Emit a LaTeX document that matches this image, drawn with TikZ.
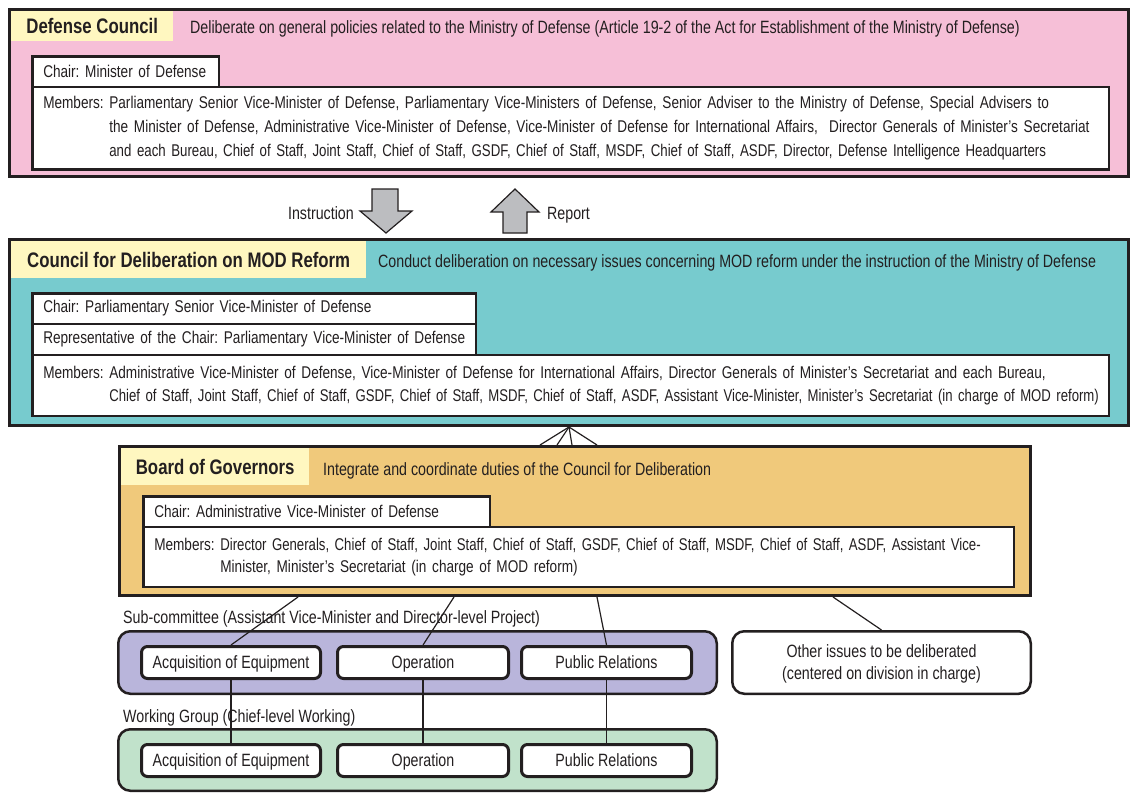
\documentclass[tikz,border=0pt]{standalone}
\usepackage{graphicx}
\usepackage{fontspec}
\setmainfont{Liberation Sans}[FakeStretch=0.8]
\frenchspacing

\definecolor{dcpink}{HTML}{F6BFD7}
\definecolor{cdrteal}{HTML}{77CBCE}
\definecolor{bogorange}{HTML}{F0C97B}
\definecolor{titleyellow}{HTML}{FFF7C0}
\definecolor{subpurple}{HTML}{B9B5DB}
\definecolor{wggreen}{HTML}{C1E2CB}
\definecolor{arrowgray}{HTML}{BCBDC0}
\definecolor{inkblack}{HTML}{231F20}

\newcommand{\bodyfont}{\fontsize{17}{24}\selectfont}
\newcommand{\descfont}{\fontsize{17.8}{22}\selectfont}
\newcommand{\headfont}{\fontsize{21}{24}\selectfont\bfseries}
\newcommand{\mindent}{\hphantom{Members: }}
\newcommand{\squeeze}[2]{\scalebox{#1}[1]{#2}}

\begin{document}
\begin{tikzpicture}[
    x=1pt, y=-1pt,
    panel/.style={draw=inkblack, line width=3pt, anchor=north west, inner sep=0pt},
    headbox/.style={fill=titleyellow, anchor=north west, inner sep=0pt,
                    font=\headfont, text=inkblack},
    desc/.style={anchor=base west, inner sep=0pt, font=\descfont, text=inkblack},
    infobox/.style={draw=inkblack, line width=2.5pt, fill=white, anchor=north west,
                    inner xsep=11pt, inner ysep=0pt, align=left,
                    font=\bodyfont, text=inkblack},
    group/.style={draw=inkblack, line width=2.5pt, rounded corners=12pt,
                  anchor=north west, inner sep=0pt},
    unit/.style={draw=inkblack, line width=3pt, fill=white, rounded corners=6pt,
                 anchor=north west, inner sep=0pt, minimum height=32pt,
                 text height=12pt, text depth=0pt, font=\descfont, text=inkblack},
    link/.style={draw=inkblack, line width=1.2pt},
    blockarrow/.style={draw=inkblack, line width=1.2pt, fill=arrowgray, line join=miter}
  ]
  \useasboundingbox (0,0) rectangle (1132,793);

  % Defense Council
  \node[panel, fill=dcpink, minimum width=1119, minimum height=167] (dc) at (8,8) {};
  \node[headbox, minimum width=162, minimum height=30] (dctitle) at (11,11) {Defense Council};
  \node[desc] (dcdesc) at (190,33) {Deliberate on general policies related to the Ministry of Defense (Article 19-2 of the Act for Establishment of the Ministry of Defense)};
  \node[infobox, text width=164.5, minimum height=30.5] (dcchair) at (31,55) {\mbox{Chair: Minister of Defense}};
  \node[infobox, text width=1054.5, minimum height=82.5] (dcmembers) at (31,85.5) {\mbox{Members: Parliamentary Senior Vice-Minister of Defense, Parliamentary Vice-Ministers of Defense, Senior Adviser to the Ministry of Defense, Special Advisers to}\\
    \mbox{\mindent the Minister of Defense, Administrative Vice-Minister of Defense, Vice-Minister of Defense for International Affairs,\ \ Director Generals of Minister’s Secretariat}\\
    \mbox{\mindent\squeeze{0.975}{and each Bureau, Chief of Staff, Joint Staff, Chief of Staff, GSDF, Chief of Staff, MSDF, Chief of Staff, ASDF, Director, Defense Intelligence Headquarters}}};

  % Instruction / Report
  \draw[blockarrow] (372,189) -- (398,189) -- (398,211) -- (412,211) -- (386,233)
    -- (360,211) -- (372,211) -- cycle;
  \draw[blockarrow] (515,189) -- (539,212) -- (527,212) -- (527,233) -- (503,233)
    -- (503,212) -- (491,212) -- cycle;
  \node[desc, anchor=base east] (instrlab) at (354,219) {Instruction};
  \node[desc] (reportlab) at (547,219) {Report};

  % Council for Deliberation on MOD Reform
  \node[panel, fill=cdrteal, minimum width=1119, minimum height=186] (cdr) at (8,238) {};
  \node[headbox, minimum width=355, minimum height=37] (cdrtitle) at (11,241) {Council for Deliberation on MOD Reform};
  \node[desc] (cdrdesc) at (378,267) {Conduct deliberation on necessary issues concerning MOD reform under the instruction of the Ministry of Defense};
  \node[infobox, text width=421.5, minimum height=30.5] (cdrchair) at (31,292) {\mbox{Chair: Parliamentary Senior Vice-Minister of Defense}};
  \node[infobox, text width=421.5, minimum height=31] (cdrrep) at (31,322.5) {\mbox{Representative of the Chair: Parliamentary Vice-Minister of Defense}};
  \node[infobox, text width=1054.5, minimum height=61, font=\fontsize{17}{23}\selectfont] (cdrmembers) at (31,353.5) {\mbox{Members: Administrative Vice-Minister of Defense, Vice-Minister of Defense for International Affairs, Director Generals of Minister’s Secretariat and each Bureau,}\\
    \mbox{\mindent\squeeze{0.967}{Chief of Staff, Joint Staff, Chief of Staff, GSDF, Chief of Staff, MSDF, Chief of Staff, ASDF, Assistant Vice-Minister, Minister’s Secretariat (in charge of MOD reform)}}};

  % Board of Governors
  \node[panel, fill=bogorange, minimum width=911, minimum height=149] (bog) at (118,445) {};
  \node[headbox, minimum width=188, minimum height=37] (bogtitle) at (121,448) {Board of Governors};
  \node[desc] (bogdesc) at (323,475) {Integrate and coordinate duties of the Council for Deliberation};
  \node[infobox, text width=324.5, minimum height=30.5] (bogchair) at (142,495) {\mbox{Chair: Administrative Vice-Minister of Defense}};
  \node[infobox, text width=848.5, minimum height=60, font=\fontsize{17}{22}\selectfont] (bogmembers) at (142,525.5) {\mbox{Members: \squeeze{0.97}{Director Generals, Chief of Staff, Joint Staff, Chief of Staff, GSDF, Chief of Staff, MSDF, Chief of Staff, ASDF, Assistant Vice-}}\\
    \mbox{\mindent Minister, Minister's Secretariat (in charge of MOD reform)}};

  % fan between council and board
  \coordinate (apex) at (569,427);
  \foreach \x [count=\i] in {540,557,572,597} {
    \coordinate (fan\i) at (\x,445);
    \draw[link] (apex) -- (fan\i);
  }

  % Sub-committee and working group
  \node[desc] (sclab) at (123,623) {Sub-committee (Assistant Vice-Minister and Director-level Project)};
  \node[group, fill=subpurple, minimum width=598.5, minimum height=62.5] (sc) at (117,630) {};
  \node[desc] (wglab) at (123,722) {Working Group (Chief-level Working)};
  \node[group, fill=wggreen, minimum width=598.5, minimum height=61.5] (wg) at (117,728) {};
  \foreach \name/\x/\w/\txt in {acq/140/179/Acquisition of Equipment,
                                op/336/171/Operation,
                                pr/520/170/Public Relations} {
    \node[unit, minimum width=\w] (sc\name) at (\x,645) {\txt};
    \node[unit, minimum width=\w] (wg\name) at (\x,743) {\txt};
    \draw[link] (sc\name.south) -- (wg\name.north);
  }
  \node[group, fill=white, minimum width=298.5, minimum height=62.5, align=center,
        text depth=0pt, font=\descfont, text=inkblack] (other) at (731,630)
    {Other issues to be deliberated\\(centered on division in charge)};

  % links from board
  \foreach \x/\name in {298/scacq, 454/scop, 597/scpr, 833/other} {
    \coordinate (from\name) at (\x,597);
    \draw[link] (from\name) -- (\name.north);
  }

\end{tikzpicture}
\end{document}
